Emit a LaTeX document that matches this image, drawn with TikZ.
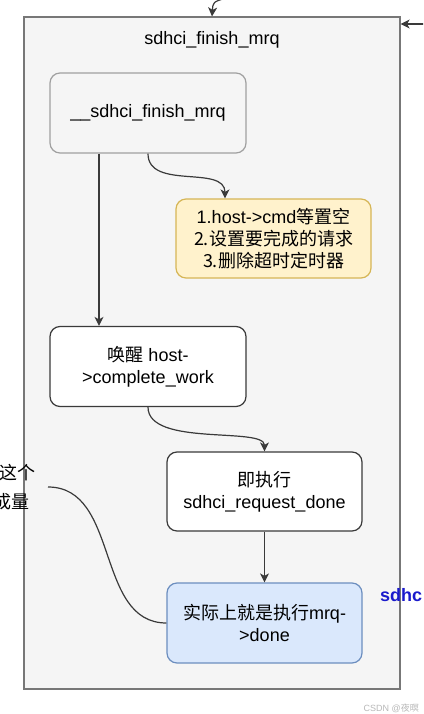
\documentclass[tikz,border=0pt]{standalone}
\usepackage{fontspec}
\usepackage{xcolor}
\setmainfont{Liberation Sans}
\newfontfamily\cjk{Noto Sans CJK SC}
\usetikzlibrary{arrows.meta}

\definecolor{pagegray}{HTML}{F5F5F5}
\definecolor{framegray}{HTML}{777777}
\definecolor{lightframe}{HTML}{A0A0A0}
\definecolor{darkframe}{HTML}{3A3A3A}
\definecolor{notefill}{HTML}{FFF2CC}
\definecolor{notedraw}{HTML}{D6B656}
\definecolor{donefill}{HTML}{DAE8FC}
\definecolor{donedraw}{HTML}{6C8EBF}
\definecolor{sideblue}{HTML}{1A1ACC}

\begin{document}
\begin{tikzpicture}[x=1pt, y=-1pt, font=\fontsize{18}{22}\selectfont,
    fnbox/.style={rounded corners=10pt, line width=1.2pt, align=center,
      minimum width=196pt, minimum height=80pt, inner sep=2pt},
    link/.style={draw=darkframe, line width=1.2pt,
      arrows={-Stealth[length=9pt, width=9pt, inset=2.5pt]}}]
  \clip (0,0) rectangle (423,714);
  \fill[white] (0,0) rectangle (423,714);

  % Draw outer function frame.
  \node[draw=framegray, fill=pagegray, line width=1.2pt, minimum width=376pt,
    minimum height=672pt] (outer) at (212,353) {};
  \node (title) at (212,40) {sdhci\_finish\_mrq};

  % Draw steps.
  \node[fnbox, draw=lightframe, fill=pagegray] (inner) at (148,113)
    {\_\_sdhci\_finish\_mrq};
  \node[fnbox, draw=notedraw, fill=notefill, minimum width=195pt,
    minimum height=79pt] (clear) at (273.5,238.5)
    {1.host->cmd{\cjk 等置空}\\{\cjk 2.设置要完成的请求}\\{\cjk 3.删除超时定时器}};
  \node[fnbox, draw=darkframe, fill=white] (wake) at (148,366.5)
    {{\cjk 唤醒} host-\\>complete\_work};
  \node[fnbox, draw=darkframe, fill=white, minimum width=195pt,
    minimum height=79pt] (reqdone) at (264.5,491.5)
    {{\cjk 即执行}\\sdhci\_request\_done};
  \node[fnbox, draw=donedraw, fill=donefill, minimum width=195pt] (done)
    at (264.5,623) {{\cjk 实际上就是执行}mrq-\\>done};

  % Draw links between steps.
  \draw[link] (inner.south) .. controls +(0,37) and +(0,-34) .. (clear.north -| 225,0);
  \draw[link] (inner.south -| 99,0) -- (wake.north -| 99,0);
  \draw[link] (wake.south) .. controls +(0,40) and +(0,-25) .. (reqdone.north);
  \draw[link] (reqdone.south) -- (done.north);

  % Draw incoming links from outside.
  \coordinate (topin) at (226,-2);
  \coordinate (rightin) at (424,24);
  \draw[link] (topin) .. controls (213,2) .. (outer.north);
  \draw[link] (rightin) -- (rightin -| outer.east);

  % Draw side notes.
  \node[anchor=east, inner sep=0pt] (cmplA) at (36,473) {\cjk 这个};
  \node[anchor=east, inner sep=0pt] (cmplB) at (30,502) {\cjk 完成量};
  \coordinate (cmpl) at (48,487);
  \draw[draw=darkframe, line width=1.2pt] (cmpl) .. controls (120,487) and (95,623) .. (done.west);
  \node[anchor=base west, inner sep=0pt, text=sideblue, font=\fontsize{18}{22}\selectfont\bfseries]
    (side) at (380,601) {sdhc};
  \node[anchor=base east, inner sep=0pt, text=black!28, font=\fontsize{9}{10}\selectfont]
    (mark) at (419,711) {CSDN @{\cjk 夜暝}};
\end{tikzpicture}
\end{document}
